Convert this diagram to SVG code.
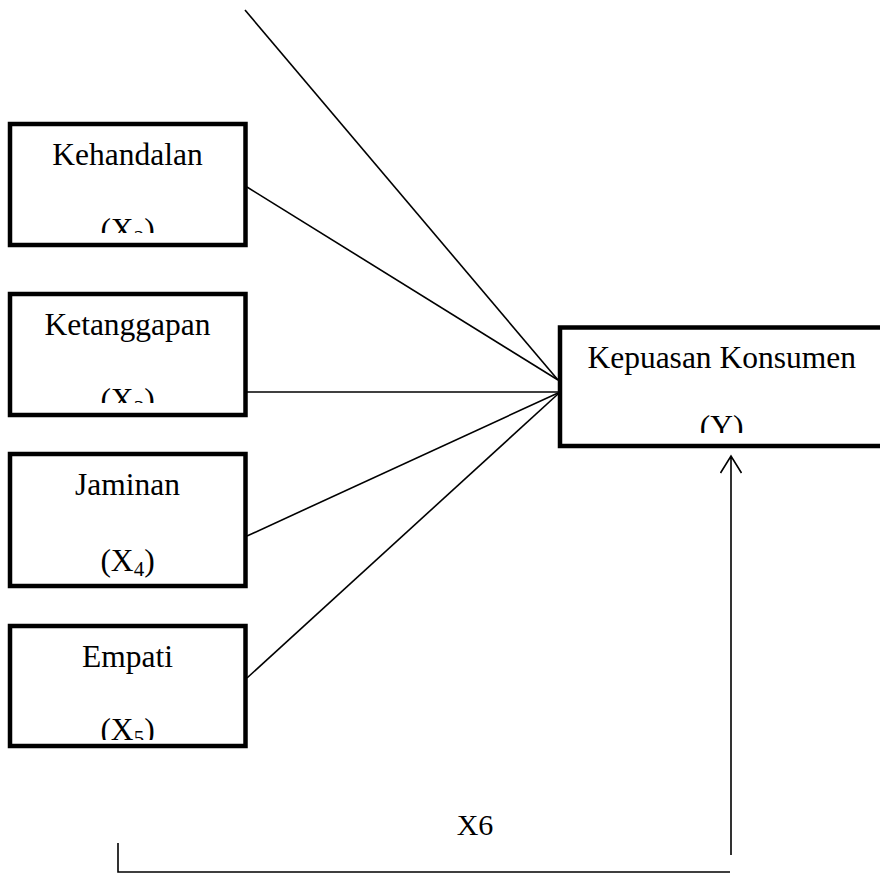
<svg xmlns="http://www.w3.org/2000/svg" width="880" height="878" viewBox="0 0 880 878">
<style>
.box{fill:#fff;stroke:#000;stroke-width:4.5;stroke-linejoin:miter}
.t{font-family:"Liberation Serif","Times New Roman",serif;font-size:31.5px;fill:#000;text-anchor:middle}
.c{stroke:#000;stroke-width:1.6;fill:none}
</style>
<defs>
<clipPath id="c1"><rect x="0" y="100" width="260" height="133"/></clipPath>
<clipPath id="c2"><rect x="0" y="270" width="260" height="133"/></clipPath>
<clipPath id="c4"><rect x="0" y="600" width="260" height="140"/></clipPath>
<clipPath id="cy"><rect x="560" y="300" width="320" height="133"/></clipPath>
</defs>
<rect width="880" height="878" fill="#fff"/>
<g id="connectors">
<line class="c" x1="245" y1="10" x2="558" y2="380"/>
<line class="c" x1="247" y1="187" x2="558" y2="380"/>
<line class="c" x1="247" y1="392" x2="558" y2="392"/>
<line class="c" x1="247" y1="536" x2="558" y2="393"/>
<line class="c" x1="247" y1="678" x2="558" y2="394"/>
<path class="c" d="M731 855 V456 M720.5 473 L731 456 L741.5 473"/>
<path class="c" d="M118 843 V872 H730"/>
</g>
<g id="x2">
<rect class="box" x="10" y="124" width="235.5" height="121"/>
<text class="t" x="127.5" y="165">Kehandalan</text>
<text class="t" x="127.5" y="240" clip-path="url(#c1)">(X<tspan font-size="21" dy="5">2</tspan><tspan dy="-5">)</tspan></text>
</g>
<g id="x3">
<rect class="box" x="10" y="294" width="235.5" height="121"/>
<text class="t" x="127.5" y="335">Ketanggapan</text>
<text class="t" x="127.5" y="410" clip-path="url(#c2)">(X<tspan font-size="21" dy="5">3</tspan><tspan dy="-5">)</tspan></text>
</g>
<g id="x4">
<rect class="box" x="10" y="454" width="235.5" height="132"/>
<text class="t" x="127.5" y="495">Jaminan</text>
<text class="t" x="127.5" y="571">(X<tspan font-size="21" dy="5">4</tspan><tspan dy="-5">)</tspan></text>
</g>
<g id="x5">
<rect class="box" x="10" y="626" width="235.5" height="120"/>
<text class="t" x="127.5" y="667">Empati</text>
<text class="t" x="127.5" y="740" clip-path="url(#c4)">(X<tspan font-size="21" dy="5">5</tspan><tspan dy="-5">)</tspan></text>
</g>
<g id="y">
<rect class="box" x="560" y="327.5" width="330" height="118.5"/>
<text class="t" x="721.7" y="368">Kepuasan Konsumen</text>
<text class="t" x="721.7" y="437" clip-path="url(#cy)">(Y)</text>
</g>
<g id="x6">
<text class="t" x="475" y="835" style="font-size:30px">X6</text>
</g>
</svg>
